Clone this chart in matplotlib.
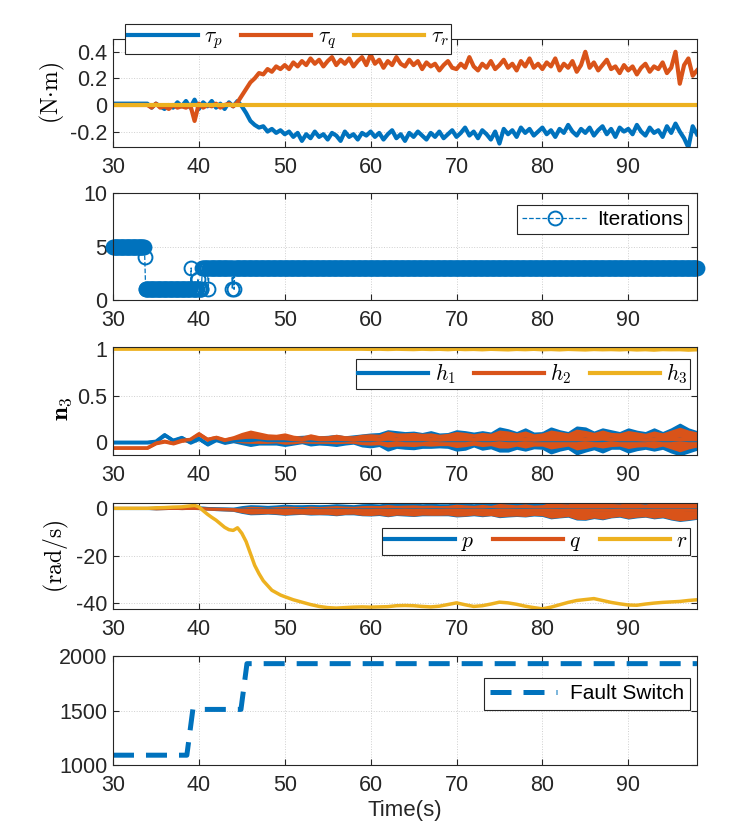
import numpy as np
import matplotlib.pyplot as plt
from matplotlib.ticker import FuncFormatter

plt.rcParams['font.family'] = ['Liberation Sans', 'DejaVu Sans']
plt.rcParams['mathtext.fontset'] = 'cm'
plt.rcParams['axes.unicode_minus'] = False

BLUE, RED, YEL = '#0072BD', '#D95319', '#EDB120'

# ---- panel 1: control torques, sampled every 0.5 s from 30 to 98 s
t1 = np.arange(30, 98.01, 0.5)
tau_p = [0.01, 0.01, 0.01, 0.01, 0.01, 0.01, 0.01, 0.01, 0.01, -0.02,
         0.01, -0.01, -0.03, 0.0, -0.02, 0.02, -0.01, 0.03, -0.02, 0.04,
         -0.03, 0.02, -0.01, 0.03, -0.02, 0.01, -0.03, 0.02, -0.01, 0.03,
         -0.01, -0.06, -0.12, -0.15, -0.17, -0.16, -0.2, -0.18, -0.21, -0.19,
         -0.22, -0.2, -0.24, -0.21, -0.27, -0.22, -0.25, -0.2, -0.24, -0.22,
         -0.26, -0.21, -0.23, -0.27, -0.2, -0.24, -0.22, -0.26, -0.21, -0.23,
         -0.2, -0.24, -0.21, -0.26, -0.22, -0.19, -0.25, -0.22, -0.27, -0.21,
         -0.24, -0.2, -0.23, -0.26, -0.21, -0.24, -0.2, -0.25, -0.22, -0.19,
         -0.24, -0.21, -0.17, -0.23, -0.2, -0.25, -0.19, -0.22, -0.26, -0.2,
         -0.29, -0.18, -0.22, -0.19, -0.24, -0.17, -0.21, -0.18, -0.23, -0.2,
         -0.17, -0.22, -0.19, -0.24, -0.18, -0.21, -0.15, -0.2, -0.23, -0.18,
         -0.21, -0.17, -0.23, -0.19, -0.16, -0.22, -0.18, -0.24, -0.17, -0.2,
         -0.18, -0.22, -0.15, -0.2, -0.23, -0.17, -0.21, -0.19, -0.24, -0.16,
         -0.21, -0.14, -0.2, -0.25, -0.32, -0.16, -0.22]
tau_q = [0, 0, 0, 0, 0, 0, 0, 0, 0, -0.02,
         0.01, -0.02, -0.01, -0.03, 0.0, -0.02, -0.01, -0.02, 0.0, -0.12,
         0.01, -0.02, 0.0, -0.01, 0.01, -0.02, 0.0, 0.01, -0.01, 0.02,
         0.07, 0.12, 0.17, 0.2, 0.24, 0.23, 0.27, 0.25, 0.29, 0.27,
         0.3, 0.27, 0.32, 0.29, 0.33, 0.3, 0.35, 0.31, 0.34, 0.29,
         0.33, 0.36, 0.3, 0.34, 0.31, 0.35, 0.29, 0.33, 0.36, 0.3,
         0.38, 0.31, 0.34, 0.28, 0.33, 0.3, 0.36, 0.31, 0.29, 0.34,
         0.3, 0.33, 0.27, 0.32, 0.29, 0.31, 0.26, 0.3, 0.33, 0.28,
         0.27, 0.31, 0.28, 0.36, 0.29, 0.26, 0.31, 0.28, 0.33, 0.27,
         0.3, 0.34, 0.28, 0.31, 0.26, 0.33, 0.29, 0.35, 0.28, 0.31,
         0.27, 0.32, 0.29, 0.35, 0.26, 0.31, 0.28, 0.33, 0.25, 0.3,
         0.4, 0.28, 0.32, 0.26, 0.3, 0.34, 0.27, 0.29, 0.24, 0.3,
         0.26, 0.29, 0.23, 0.28, 0.31, 0.25, 0.29, 0.27, 0.32, 0.24,
         0.28, 0.4, 0.16, 0.3, 0.35, 0.22, 0.26]
tau_r = np.zeros(len(t1))

# ---- panel 2: solver iterations, piecewise constant (change time, new value)
it_change_t = [30.0, 33.7, 33.8, 39.1, 39.2, 39.9, 40.0, 40.4, 41.1, 41.2, 43.9, 44.0, 44.1, 44.2]
it_change_v = [5, 4, 1, 3, 1, 2, 1, 3, 1, 3, 1, 3, 1, 3]
t_it = np.arange(30, 98.01, 0.1)

# ---- panels 3 and 4: centre and half-width of each band, every 1 s
ts = np.arange(30, 99, 1)
h1_c = [0.0, 0.0, 0.0, 0.0, 0.0,
        0.01, 0.08, 0.02, 0.05, 0.0,
        0.04, -0.02, 0.03, 0.0, 0.02,
        0.02, 0.02, 0.03, 0.02, 0.02,
        0.02, 0.02, 0.03, 0.02, 0.02,
        0.02, 0.02, 0.02, 0.03, 0.02,
        0.02, 0.03, 0.02, 0.03, 0.02,
        0.02, 0.02, 0.03, 0.02, 0.02,
        0.02, 0.02, 0.03, 0.02, 0.02,
        0.03, 0.02, 0.02, 0.03, 0.02,
        0.02, 0.02, 0.02, 0.02, 0.02,
        0.03, 0.02, 0.02, 0.03, 0.02,
        0.02, 0.02, 0.02, 0.03, 0.02,
        0.02, 0.03, 0.02, 0.02]
h1_a = [0.004, 0.004, 0.004, 0.004, 0.004,
        0.004, 0.006, 0.006, 0.006, 0.006,
        0.006, 0.006, 0.008, 0.008, 0.01,
        0.03, 0.05, 0.045, 0.035, 0.035,
        0.05, 0.035, 0.03, 0.045, 0.035,
        0.04, 0.05, 0.035, 0.035, 0.055,
        0.065, 0.06, 0.1, 0.08, 0.08,
        0.085, 0.07, 0.08, 0.065, 0.07,
        0.1, 0.09, 0.065, 0.09, 0.075,
        0.12, 0.11, 0.08, 0.11, 0.075,
        0.08, 0.13, 0.1, 0.08, 0.14,
        0.12, 0.085, 0.12, 0.09, 0.08,
        0.12, 0.095, 0.08, 0.11, 0.08,
        0.12, 0.16, 0.12, 0.09]
h2_c = [-0.06, -0.06, -0.06, -0.06, -0.06,
        -0.01, 0.01, -0.01, 0.02, 0.03,
        0.09, 0.03, 0.05, 0.02, 0.04,
        0.05, 0.06, 0.05, 0.04, 0.04,
        0.04, 0.03, 0.03, 0.04, 0.03,
        0.03, 0.035, 0.03, 0.03, 0.03,
        0.03, 0.03, 0.035, 0.03, 0.03,
        0.03, 0.03, 0.03, 0.025, 0.03,
        0.03, 0.03, 0.03, 0.03, 0.03,
        0.035, 0.03, 0.03, 0.03, 0.025,
        0.03, 0.03, 0.03, 0.03, 0.03,
        0.03, 0.03, 0.035, 0.03, 0.03,
        0.03, 0.03, 0.025, 0.03, 0.03,
        0.03, 0.03, 0.03, 0.03]
h2_a = [0.004, 0.004, 0.004, 0.004, 0.004,
        0.006, 0.008, 0.008, 0.01, 0.01,
        0.012, 0.012, 0.015, 0.018, 0.02,
        0.045, 0.06, 0.05, 0.04, 0.035,
        0.05, 0.035, 0.025, 0.04, 0.03,
        0.03, 0.04, 0.03, 0.03, 0.045,
        0.05, 0.045, 0.075, 0.06, 0.06,
        0.065, 0.055, 0.06, 0.05, 0.055,
        0.075, 0.065, 0.05, 0.065, 0.055,
        0.085, 0.08, 0.06, 0.08, 0.055,
        0.06, 0.09, 0.075, 0.06, 0.1,
        0.085, 0.065, 0.085, 0.065, 0.06,
        0.085, 0.07, 0.06, 0.08, 0.06,
        0.09, 0.12, 0.09, 0.07]
h3 = [1.0] * 30 + [0.998, 1.0, 0.997, 1.0, 0.998, 0.996, 1.0, 0.997, 0.999, 0.995,
                   1.0, 0.996, 0.998, 0.994, 0.999, 0.996, 0.993, 0.998, 0.995, 0.999,
                   0.994, 0.997, 0.993, 0.998, 0.995, 0.992, 0.997, 0.994, 0.996, 0.993,
                   0.997, 0.992, 0.995, 0.99, 0.996, 0.994, 0.995, 0.99, 0.994]

q_c = [0.0, 0.0, 0.0, 0.0, 0.0,
       -0.1, 0.0, 0.1, 0.0, 0.1,
       0.0, -0.2, -0.3, -0.4, -0.5,
       -0.7, -0.8, -0.8, -0.9, -0.8,
       -0.9, -0.8, -0.9, -0.8, -0.9,
       -0.8, -0.9, -0.8, -0.8, -0.9,
       -0.9, -0.8, -0.9, -0.8, -0.8,
       -0.9, -0.8, -0.8, -0.9, -0.8,
       -0.8, -0.9, -0.8, -0.8, -0.9,
       -0.8, -0.8, -0.9, -0.8, -0.8,
       -0.8, -0.8, -0.9, -0.8, -0.7,
       -0.7, -0.8, -0.8, -0.9, -0.8,
       -0.8, -0.8, -0.9, -0.8, -0.8,
       -0.7, -0.7, -0.8, -0.8]
q_a = [0.1, 0.1, 0.1, 0.1, 0.1,
       0.2, 0.2, 0.2, 0.2, 0.2,
       0.2, 0.2, 0.25, 0.3, 0.35,
       0.8, 1.3, 1.2, 1.0, 1.2,
       1.5, 1.3, 1.2, 1.4, 1.3,
       1.4, 1.7, 1.4, 1.3, 1.7,
       1.8, 1.6, 2.1, 1.7, 1.8,
       2.0, 1.7, 1.8, 1.7, 1.7,
       2.2, 2.0, 1.7, 2.1, 1.8,
       2.5, 2.2, 2.0, 2.3, 1.8,
       2.0, 3.0, 2.6, 2.3, 3.6,
       3.7, 2.9, 3.4, 2.6, 2.3,
       3.1, 2.6, 2.3, 3.0, 2.6,
       3.6, 4.2, 3.7, 3.2]
p_c = [0.0, 0.0, 0.0, 0.0, 0.0,
       0.1, 0.2, 0.3, 0.2, 0.3,
       0.2, 0.0, -0.2, -0.3, -0.4,
       -0.5, -0.6, -0.6, -0.6, -0.6,
       -0.6, -0.6, -0.5, -0.6, -0.6,
       -0.6, -0.6, -0.5, -0.6, -0.6,
       -0.6, -0.6, -0.6, -0.5, -0.6,
       -0.6, -0.6, -0.5, -0.6, -0.6,
       -0.6, -0.6, -0.6, -0.6, -0.5,
       -0.6, -0.6, -0.6, -0.5, -0.6,
       -0.6, -0.6, -0.6, -0.6, -0.5,
       -0.5, -0.6, -0.6, -0.6, -0.6,
       -0.6, -0.6, -0.6, -0.6, -0.6,
       -0.5, -0.5, -0.6, -0.6]
p_a = [0.1, 0.1, 0.1, 0.1, 0.1,
       0.3, 0.3, 0.3, 0.3, 0.3,
       0.3, 0.3, 0.35, 0.4, 0.45,
       1.2, 1.7, 1.6, 1.4, 1.6,
       1.9, 1.7, 1.6, 1.8, 1.7,
       1.8, 2.1, 1.8, 1.7, 2.1,
       2.2, 2.0, 2.5, 2.1, 2.2,
       2.4, 2.1, 2.2, 2.1, 2.1,
       2.6, 2.4, 2.1, 2.5, 2.2,
       2.9, 2.6, 2.4, 2.7, 2.2,
       2.4, 3.4, 3.0, 2.7, 4.0,
       4.1, 3.3, 3.8, 3.0, 2.7,
       3.5, 3.0, 2.7, 3.4, 3.0,
       4.0, 4.6, 4.1, 3.6]

r_t = [30, 34, 35, 36, 37, 38, 39, 39.5, 40, 40.5, 41, 41.5, 42, 42.5, 43, 43.5,
       44, 44.5, 45, 45.5, 46, 46.5, 47, 47.5, 48, 48.5, 49, 49.5, 50, 51, 52, 53,
       54, 55, 56, 57, 58, 59, 60, 61, 62, 63, 64, 65, 66, 67, 68, 69, 70, 71, 72,
       73, 74, 75, 76, 77, 78, 79, 80, 81, 82, 83, 84, 85, 86, 87, 88, 89, 90, 91,
       92, 93, 94, 95, 96, 97, 98]
r_v = [0, 0, 0.2, 0.3, 0.5, 0.6, 1.0, 1.2, 0.6, -1.0, -2.5, -3.8, -5.0, -6.5, -8.0, -9.0,
       -9.3, -8.2, -10.5, -14.0, -19.0, -24.0, -27.5, -30.5, -32.5, -34.5, -35.5, -36.5, -37.2, -38.5, -39.5, -40.5,
       -41.3, -41.8, -42.0, -41.8, -41.6, -41.5, -41.6, -41.5, -41.4, -41.0, -40.9, -41.0, -41.3, -41.5, -41.2, -40.5, -39.8, -40.6, -41.3,
       -41.0, -40.3, -39.5, -39.8, -40.4, -41.2, -41.8, -42.3, -41.6, -40.6, -39.6, -38.8, -38.4, -38.0, -38.8, -39.6, -40.2, -40.7, -40.8,
       -40.3, -39.9, -39.6, -39.4, -39.2, -38.8, -38.5]

# ---- panel 5: fault switch
fs_t = [30, 38.6, 39.3, 44.9, 45.6, 98]
fs_v = [1090, 1090, 1510, 1510, 1930, 1930]

fig = plt.figure(figsize=(7.38, 8.39), dpi=100)
boxes = [[0.1531, 0.8248, 0.7913, 0.1293],
         [0.1531, 0.6424, 0.7913, 0.1275],
         [0.1531, 0.4577, 0.7913, 0.1284],
         [0.1531, 0.2738, 0.7913, 0.1263],
         [0.1531, 0.0882, 0.7913, 0.1299]]
axs = [fig.add_axes(b) for b in boxes]


def style(ax, ylim, yticks):
    ax.set_xlim(30, 98)
    ax.set_xticks(range(30, 100, 10))
    ax.set_ylim(*ylim)
    ax.set_yticks(yticks)
    ax.yaxis.set_major_formatter(FuncFormatter(lambda v, p: f'{v:g}'))
    ax.tick_params(direction='in', top=True, right=True, labelsize=15.5,
                   colors='#262626', length=4, width=0.8)
    ax.tick_params(axis='x', pad=7)
    ax.tick_params(axis='y', pad=4)
    ax.grid(True, color='#cfcfcf', lw=0.7, ls=':')
    ax.set_axisbelow(True)
    for s in ax.spines.values():
        s.set_color('#262626')
        s.set_linewidth(0.8)


def legend(ax, anchor, loc, **kw):
    leg = ax.legend(loc=loc, bbox_to_anchor=anchor, fancybox=False, framealpha=1,
                    edgecolor='#262626', borderaxespad=0, **kw)
    leg.get_frame().set_linewidth(0.8)
    return leg


math_leg = dict(ncol=3, fontsize=15.5, handlelength=3.25, handletextpad=0.3,
                columnspacing=0.85, borderpad=0.12)

# panel 1
ax = axs[0]
ax.plot(t1, tau_p, color=BLUE, lw=3, label=r'$\tau_p$')
ax.plot(t1, tau_q, color=RED, lw=3, label=r'$\tau_q$')
ax.plot(t1, tau_r, color=YEL, lw=3, label=r'$\tau_r$')
style(ax, (-0.316, 0.5), [-0.2, 0, 0.2, 0.4])
ax.set_ylabel(r'$(\mathrm{N{\cdot}m})$', fontsize=17)
ax.yaxis.set_label_coords(-0.079, 0.5)
legend(ax, (0.0205, 1.134), 'upper left', **math_leg)

# panel 2
ax = axs[1]
idx = np.searchsorted(it_change_t, t_it + 1e-9, side='right') - 1
iters = np.array(it_change_v)[idx]
ax.plot(t_it, iters, ls='--', lw=0.9, color=BLUE, marker='o', ms=10,
        mfc='none', mec=BLUE, mew=1.4, label='Iterations', clip_on=False)
style(ax, (0, 10), [0, 5, 10])
legend(ax, (0.9846, 0.888), 'upper right', fontsize=15, handlelength=3.2,
       handletextpad=0.4, borderpad=0.25)

# panel 3
ax = axs[2]
h1_c, h1_a, h2_c, h2_a = map(np.array, (h1_c, h1_a, h2_c, h2_a))
ax.fill_between(ts, h1_c - h1_a, h1_c + h1_a, color=BLUE, lw=2)
ax.plot(ts, h1_c, color=BLUE, lw=2.5, label=r'$h_1$')
ax.fill_between(ts, h2_c - h2_a, h2_c + h2_a, color=RED, lw=1.5)
ax.plot(ts, h2_c, color=RED, lw=2.5, label=r'$h_2$')
ax.plot(ts, h3, color=YEL, lw=2.8, label=r'$h_3$')
style(ax, (-0.136, 1.018), [0, 0.5, 1])
ax.set_ylabel(r'$\mathbf{n}_3$', fontsize=18)
ax.yaxis.set_label_coords(-0.067, 0.43)
leg = legend(ax, (0.988, 0.891), 'upper right', **math_leg)
for ln in leg.get_lines():
    ln.set_linewidth(3)

# panel 4
ax = axs[3]
p_c, p_a, q_c, q_a = map(np.array, (p_c, p_a, q_c, q_a))
ax.fill_between(ts, p_c - p_a, p_c + p_a, color=BLUE, lw=1.5)
ax.plot(ts, p_c, color=BLUE, lw=2, label=r'$p$')
ax.fill_between(ts, q_c - q_a, q_c + q_a, color=RED, lw=1.2)
ax.plot(ts, q_c, color=RED, lw=2, label=r'$q$')
ax.plot(r_t, r_v, color=YEL, lw=2.5, label=r'$r$')
style(ax, (-42.5, 2.1), [-40, -20, 0])
ax.set_ylabel(r'$(\mathrm{rad/s})$', fontsize=17)
ax.yaxis.set_label_coords(-0.072, 0.5)
leg = legend(ax, (0.988, 0.767), 'upper right', **math_leg)
for ln in leg.get_lines():
    ln.set_linewidth(3)

# panel 5
ax = axs[4]
ax.plot(fs_t, fs_v, color=BLUE, lw=3.6, ls=(0, (4.2, 2.4)), label='Fault Switch')
style(ax, (1000, 2000), [1000, 1500, 2000])
legend(ax, (0.988, 0.798), 'upper right', fontsize=15, handlelength=3.2,
       handletextpad=0.6, borderpad=0.3)
ax.set_xlabel('Time(s)', fontsize=16, color='#262626', labelpad=3)

fig.savefig('out.png', dpi=100)
